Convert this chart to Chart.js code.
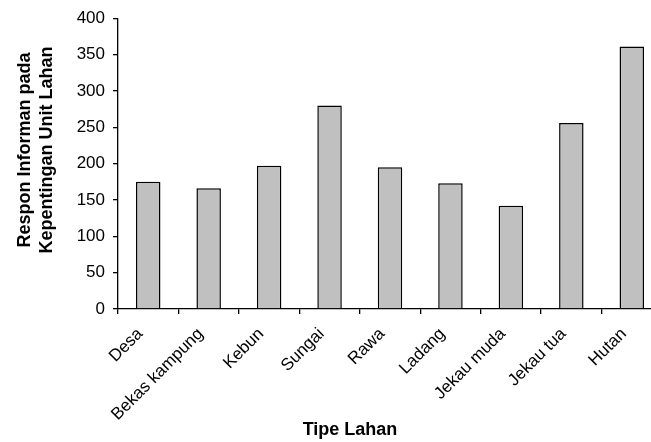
<!DOCTYPE html>
<html>
<head>
<meta charset="utf-8">
<script src="https://cdn.jsdelivr.net/npm/chart.js@4/dist/chart.umd.min.js"></script>
<style>
html,body{margin:0;padding:0;background:#fff;overflow:hidden;width:651px;height:442px;}
#wrap{position:relative;width:651px;height:442px;overflow:hidden;}
canvas{position:absolute;left:0;top:0;}
.xt{position:absolute;left:250px;width:200px;top:418px;text-align:center;font:bold 18px "Liberation Sans",Arial,sans-serif;color:#000;line-height:22px;}
.yt{position:absolute;left:35px;top:150px;width:260px;height:44px;margin-left:-130px;margin-top:-22px;transform:rotate(-90deg);text-align:center;font:bold 18px "Liberation Sans",Arial,sans-serif;color:#000;line-height:22px;white-space:nowrap;}
</style>
</head>
<body>
<div id="wrap">
<canvas id="c" width="700" height="442"></canvas>
<div class="yt">Respon Informan pada<br>Kepentingan Unit Lahan</div>
<div class="xt">Tipe Lahan</div>
</div>
<script>
const categories = ["Desa", "Bekas kampung", "Kebun", "Sungai", "Rawa", "Ladang", "Jekau muda", "Jekau tua", "Hutan"];
const responValues = [175, 166, 197, 280, 195, 173, 142, 256, 361];
const yTicks = [0, 50, 100, 150, 200, 250, 300, 350, 400];

const FONT = '"Liberation Sans", Arial, sans-serif';
new Chart(document.getElementById('c'), {
  type: 'bar',
  data: {
    labels: categories,
    datasets: [{
      data: responValues,
      backgroundColor: '#c0c0c0',
      borderColor: '#000',
      borderWidth: 1.5,
      barPercentage: 0.405,
      categoryPercentage: 1.0
    }]
  },
  options: {
    responsive: false,
    devicePixelRatio: 1,
    animation: false,
    layout: { padding: { top: 16, right: 38, left: 0, bottom: 0 } },
    plugins: { legend: { display: false }, tooltip: { enabled: false } },
    scales: {
      x: {
        offset: true,
        grid: { display: true, drawOnChartArea: false, drawTicks: true, tickLength: 5, color: '#000', lineWidth: 1.3, offset: true },
        border: { display: true, color: '#000', width: 1.3 },
        ticks: { color: '#000', font: { family: FONT, size: 17 }, minRotation: 45, maxRotation: 45, autoSkip: false, padding: 10, labelOffset: -8 },
        afterFit: s => { s.height = 133; }
      },
      y: {
        min: 0, max: 400,
        afterBuildTicks: s => { s.ticks = yTicks.map(v => ({ value: v })); },
        grid: { display: true, drawOnChartArea: false, drawTicks: true, tickLength: 5, color: '#000', lineWidth: 1.3 },
        border: { display: true, color: '#000', width: 1.3 },
        ticks: { color: '#000', font: { family: FONT, size: 17 }, padding: 8 },
        afterFit: s => { s.width = 118; }
      }
    }
  }
});
</script>
</body>
</html>
